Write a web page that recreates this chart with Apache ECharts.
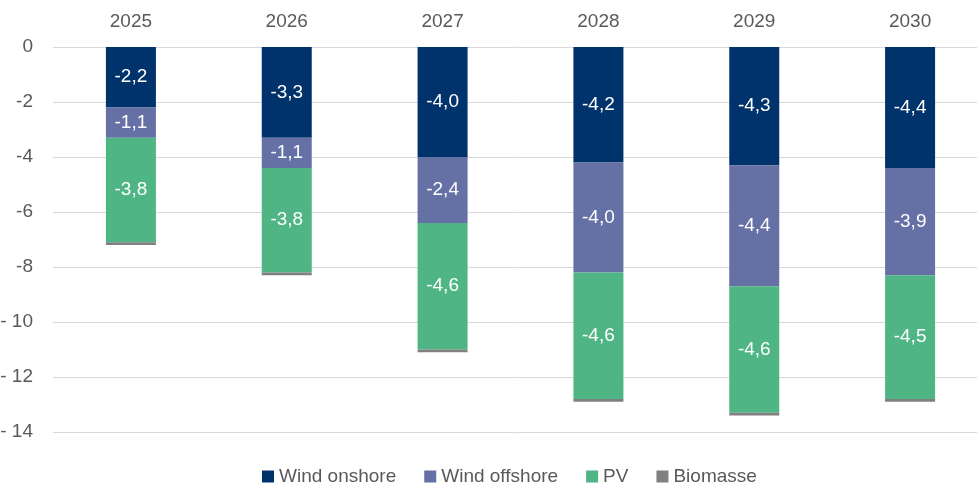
<!DOCTYPE html>
<html>
<head>
    <meta charset="utf-8">
    <title>Ausbau</title>
    <script src="https://cdn.jsdelivr.net/npm/echarts@6/dist/echarts.min.js"></script>
    <style>
        html, body { margin: 0; padding: 0; background: #fff; }
        #chart1 { width: 977px; height: 486px; }
    </style>
</head>
<body>
<div id="chart1"></div>
<script type="text/javascript">
    // Jahre und Werte
    var years = ['2025', '2026', '2027', '2028', '2029', '2030'];
    var windOnshore = [-2.2, -3.3, -4.0, -4.2, -4.3, -4.4];
    var windOffshore = [-1.1, -1.1, -2.4, -4.0, -4.4, -3.9];
    var pv = [-3.8, -3.8, -4.6, -4.6, -4.6, -4.5];
    var biomasse = [-0.1, -0.1, -0.1, -0.1, -0.1, -0.1];
    var yTicks = [0, -2, -4, -6, -8, -10, -12, -14];

    var fontName = 'Liberation Sans, Arial, sans-serif';

    function label(show) {
        return {
            show: show,
            position: 'inside',
            color: '#fff',
            fontSize: 19,
            fontFamily: fontName,
            formatter: function (p) {
                return p.value.toFixed(1).replace('.', ',');
            }
        };
    }

    function serie(name, data, color, showLabel) {
        return {
            name: name,
            type: 'bar',
            stack: 'total',
            barWidth: 50,
            data: data,
            itemStyle: { color: color },
            label: label(showLabel)
        };
    }

    var myChart1 = echarts.init(document.getElementById('chart1'));
    myChart1.setOption({
        animation: false,
        textStyle: { fontFamily: fontName },
        grid: { left: 53, top: 47, width: 935, bottom: 54, containLabel: false, outerBoundsMode: 'none' },
        legend: {
            top: 462,
            left: 257,
            itemWidth: 12,
            itemHeight: 12,
            itemGap: 28,
            icon: 'rect',
            textStyle: { color: '#595959', fontSize: 19, fontFamily: fontName },
            data: ['Wind onshore', 'Wind offshore', 'PV', 'Biomasse']
        },
        xAxis: {
            type: 'category',
            position: 'top',
            data: years,
            axisLine: { show: false },
            axisTick: { show: false },
            axisLabel: { color: '#595959', fontSize: 19, margin: 16 }
        },
        yAxis: {
            type: 'value',
            min: yTicks[yTicks.length - 1],
            max: yTicks[0],
            interval: 2,
            axisLine: { show: false },
            axisTick: { show: false },
            splitLine: { lineStyle: { color: '#d9d9d9', width: 1 } },
            axisLabel: {
                color: '#595959',
                fontSize: 19,
                margin: 20,
                formatter: function (v) {
                    return v <= -10 ? '- ' + Math.abs(v) : String(v);
                }
            }
        },
        series: [
            serie('Wind onshore', windOnshore, '#00336b', true),
            serie('Wind offshore', windOffshore, '#6570a5', true),
            serie('PV', pv, '#4fb585', true),
            serie('Biomasse', biomasse, '#808080', false)
        ]
    });
</script>
</body>
</html>
